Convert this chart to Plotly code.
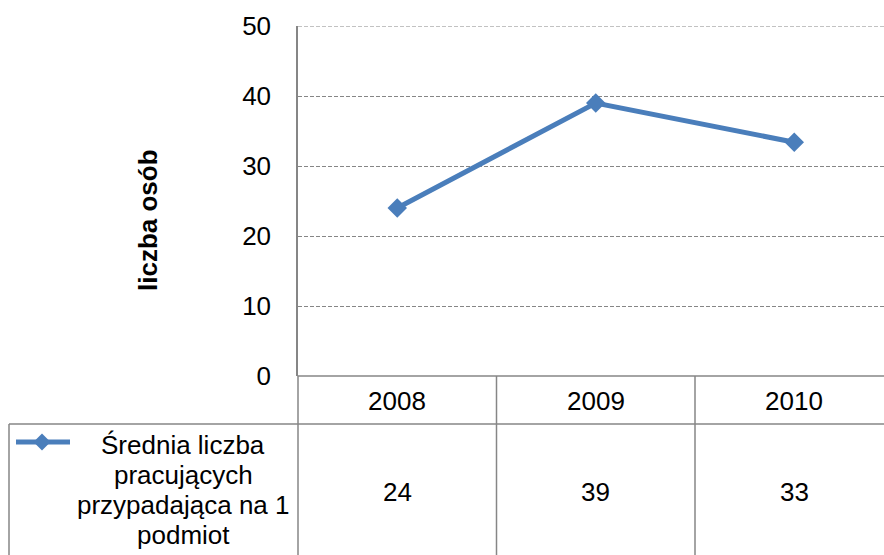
import plotly.graph_objects as go

years = ["2008", "2009", "2010"]
values = [24, 39, 33.4]
series_name_lines = ["Średnia liczba", "pracujących", "przypadająca na 1", "podmiot"]
y_title = "liczba osób"
y_ticks = [0, 10, 20, 30, 40, 50]

W, H = 884, 555
LINE_BLUE = "#4A7EBB"
GRID = "#868686"
FONT = "Liberation Sans, Arial, sans-serif"
FS = 26


def px(x):
    return x / W


def py(y):
    return 1 - y / H


plot_left, plot_top, plot_bottom = 298, 26, 376
header_bottom = 424
legend_left = 9

fig = go.Figure()
fig.add_trace(go.Scatter(
    x=list(range(len(years))), y=values, mode="lines+markers",
    line=dict(color=LINE_BLUE, width=5),
    marker=dict(symbol="diamond", size=15, color=LINE_BLUE),
    showlegend=False, cliponaxis=False,
))

band = 198.5
x_hi = -0.5 + (W - plot_left) / band

shapes = []
lc = dict(color=GRID, width=1.5)
# top gridline (value 50)
shapes.append(dict(type="line", xref="paper", yref="y", x0=px(plot_left), x1=1,
                   y0=y_ticks[-1], y1=y_ticks[-1], line=dict(color=GRID, width=1, dash="4px,2px")))
# x-axis line / table top
shapes.append(dict(type="line", xref="paper", yref="paper", x0=px(plot_left), x1=1,
                   y0=py(plot_bottom), y1=py(plot_bottom), line=lc))
# header bottom line
shapes.append(dict(type="line", xref="paper", yref="paper", x0=px(legend_left), x1=1,
                   y0=py(header_bottom), y1=py(header_bottom), line=lc))
# left axis extension down
shapes.append(dict(type="line", xref="paper", yref="paper", x0=px(plot_left), x1=px(plot_left),
                   y0=py(plot_bottom), y1=0, line=lc))
# legend cell left border
shapes.append(dict(type="line", xref="paper", yref="paper", x0=px(legend_left), x1=px(legend_left),
                   y0=py(header_bottom), y1=0, line=lc))
# category separators
for i in range(1, len(years)):
    shapes.append(dict(type="line", xref="x", yref="paper", x0=i - 0.5, x1=i - 0.5,
                       y0=py(plot_bottom), y1=0, line=lc))
# legend symbol
sym_y = 442
shapes.append(dict(type="line", xref="paper", yref="paper", x0=px(16), x1=px(70),
                   y0=py(sym_y), y1=py(sym_y), line=dict(color=LINE_BLUE, width=5)))
cx, r = 42, 8.5
path = "M {} {} L {} {} L {} {} L {} {} Z".format(
    px(cx - r), py(sym_y), px(cx), py(sym_y - r), px(cx + r), py(sym_y), px(cx), py(sym_y + r))
shapes.append(dict(type="path", xref="paper", yref="paper", path=path,
                   fillcolor=LINE_BLUE, line=dict(color=LINE_BLUE, width=0)))

txt = dict(showarrow=False, xanchor="center", yanchor="middle",
           font=dict(family=FONT, size=FS, color="black"))
annotations = []
for i, (yr, v) in enumerate(zip(years, values)):
    annotations.append(dict(x=i, xref="x", y=py(401), yref="paper", text=yr, **txt))
    annotations.append(dict(x=i, xref="x", y=py(492), yref="paper", text=f"{v:.0f}", **txt))
for line, yy in zip(series_name_lines, [445, 475, 505, 535]):
    annotations.append(dict(x=px(183), xref="paper", y=py(yy), yref="paper", text=line, **txt))
annotations.append(dict(x=px(148), xref="paper", y=py(220), yref="paper", text=f"<b>{y_title}</b>",
                        textangle=-90, **txt))

fig.update_layout(
    width=W, height=H,
    margin=dict(l=0, r=0, t=0, b=0, pad=0, autoexpand=False),
    paper_bgcolor="white", plot_bgcolor="white",
    font=dict(family=FONT, size=FS, color="black"),
    xaxis=dict(domain=[px(plot_left), 1], range=[-0.5, x_hi], automargin=False,
               showticklabels=False, showgrid=False, zeroline=False, showline=False, ticks=""),
    yaxis=dict(domain=[py(plot_bottom), py(plot_top)], range=[0, 50], tickvals=y_ticks,
               automargin=False,
               showgrid=True, gridcolor=GRID, gridwidth=1, griddash="4px,2px",
               zeroline=False, showline=True, linecolor=GRID, linewidth=1.5,
               ticks="outside", ticklen=20, tickcolor="rgba(0,0,0,0)",
               tickfont=dict(family=FONT, size=FS, color="black")),
    shapes=shapes, annotations=annotations,
    showlegend=False,
)

fig.write_html("out.html", config={"displayModeBar": False},
               post_script="document.body.style.margin='0px';")
